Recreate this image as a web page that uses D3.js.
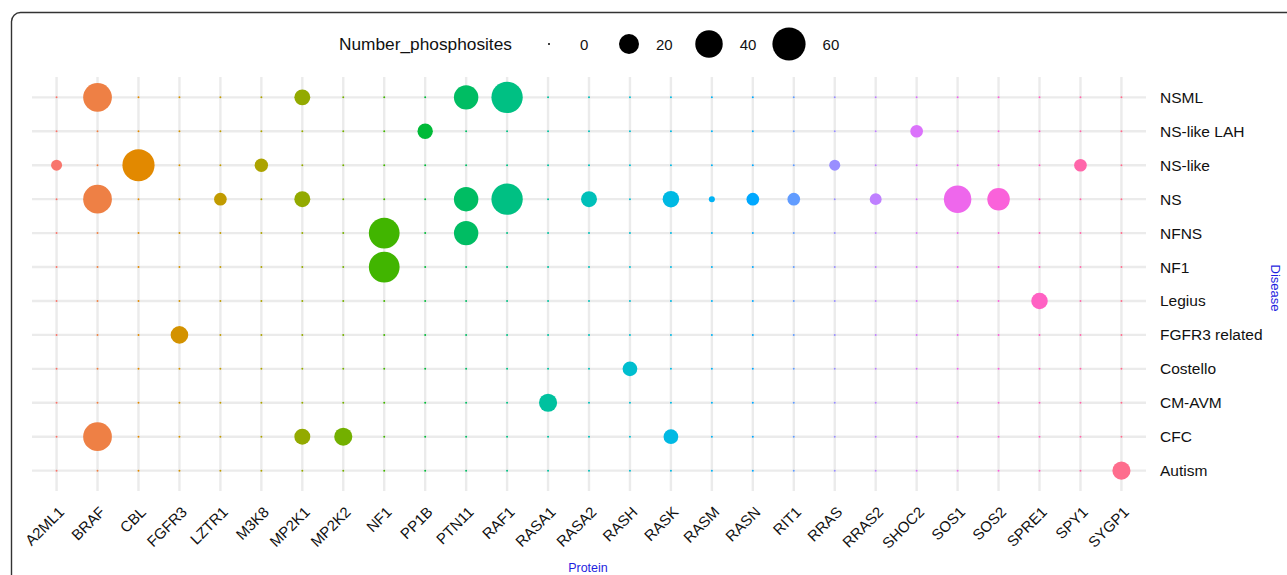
<!DOCTYPE html>
<html>
<head>
<meta charset="utf-8">
<script src="https://cdn.jsdelivr.net/npm/d3@7"></script>
<style>
  body { margin: 0; background: #fff; }
  svg text { font-family: "Liberation Sans", Arial, sans-serif; }
</style>
</head>
<body>
<div id="chart"></div>
<script>
// proteins along the x axis
const proteins = ["A2ML1", "BRAF", "CBL", "FGFR3", "LZTR1", "M3K8", "MP2K1", "MP2K2", "NF1",
    "PP1B", "PTN11", "RAF1", "RASA1", "RASA2", "RASH", "RASK", "RASM", "RASN", "RIT1", "RRAS",
    "RRAS2", "SHOC2", "SOS1", "SOS2", "SPRE1", "SPY1", "SYGP1"];

// diseases, top to bottom
const diseases = ["NSML", "NS-like LAH", "NS-like", "NS", "NFNS", "NF1", "Legius",
    "FGFR3 related", "Costello", "CM-AVM", "CFC", "Autism"];

// number of phosphosites, one row per disease, one column per protein
const phosphosites = [
    [0, 44, 0, 0, 0, 0, 12, 0, 0, 0, 31, 53, 0, 0, 0, 0, 0, 0, 0, 0, 0, 0, 0, 0, 0, 0, 0],
    [0, 0, 0, 0, 0, 0, 0, 0, 0, 11, 0, 0, 0, 0, 0, 0, 0, 0, 0, 0, 0, 7, 0, 0, 0, 0, 0],
    [5, 0, 56, 0, 0, 8, 0, 0, 0, 0, 0, 0, 0, 0, 0, 0, 0, 0, 0, 5, 0, 0, 0, 0, 0, 7, 0],
    [0, 44, 0, 0, 7, 0, 12, 0, 0, 0, 31, 53, 0, 12, 0, 13, 1, 7, 7, 0, 6, 0, 40, 26, 0, 0, 0],
    [0, 0, 0, 0, 0, 0, 0, 0, 51, 0, 31, 0, 0, 0, 0, 0, 0, 0, 0, 0, 0, 0, 0, 0, 0, 0, 0],
    [0, 0, 0, 0, 0, 0, 0, 0, 51, 0, 0, 0, 0, 0, 0, 0, 0, 0, 0, 0, 0, 0, 0, 0, 0, 0, 0],
    [0, 0, 0, 0, 0, 0, 0, 0, 0, 0, 0, 0, 0, 0, 0, 0, 0, 0, 0, 0, 0, 0, 0, 0, 13, 0, 0],
    [0, 0, 0, 15, 0, 0, 0, 0, 0, 0, 0, 0, 0, 0, 0, 0, 0, 0, 0, 0, 0, 0, 0, 0, 0, 0, 0],
    [0, 0, 0, 0, 0, 0, 0, 0, 0, 0, 0, 0, 0, 0, 10, 0, 0, 0, 0, 0, 0, 0, 0, 0, 0, 0, 0],
    [0, 0, 0, 0, 0, 0, 0, 0, 0, 0, 0, 0, 16, 0, 0, 0, 0, 0, 0, 0, 0, 0, 0, 0, 0, 0, 0],
    [0, 44, 0, 0, 0, 0, 12, 16, 0, 0, 0, 0, 0, 0, 0, 10, 0, 0, 0, 0, 0, 0, 0, 0, 0, 0, 0],
    [0, 0, 0, 0, 0, 0, 0, 0, 0, 0, 0, 0, 0, 0, 0, 0, 0, 0, 0, 0, 0, 0, 0, 0, 0, 0, 16]
];

// legend breaks
const sizeBreaks = [0, 20, 40, 60];

const width = 1287;
const height = 575;
const margin = { top: 77, right: 141, bottom: 84, left: 32 };

// ggplot-like hue palette (polarLUV, l = 65, c = 100)
function hclLuv(h, c, l) {
    const hr = h * Math.PI / 180;
    const U = c * Math.cos(hr), V = c * Math.sin(hr);
    const Xn = 95.047, Yn = 100, Zn = 108.883;
    const den = Xn + 15 * Yn + 3 * Zn;
    const un = 4 * Xn / den, vn = 9 * Yn / den;
    const Y = Yn * (l > 8 ? Math.pow((l + 16) / 116, 3) : l / 903.3);
    const u = U / (13 * l) + un, v = V / (13 * l) + vn;
    const X = 9 * Y * u / (4 * v);
    const Z = -X / 3 - 5 * Y + 3 * Y / v;
    const x = X / 100, y = Y / 100, z = Z / 100;
    const lin = [
        3.2404542 * x - 1.5371385 * y - 0.4985314 * z,
        -0.9692660 * x + 1.8760108 * y + 0.0415560 * z,
        0.0556434 * x - 0.2040259 * y + 1.0572252 * z
    ];
    const g = lin.map(t => {
        const s = t <= 0.0031308 ? 12.92 * t : 1.055 * Math.pow(t, 1 / 2.4) - 0.055;
        return Math.round(255 * Math.max(0, Math.min(1, s)));
    });
    return `rgb(${g[0]},${g[1]},${g[2]})`;
}
const colors = proteins.map((_, i) => hclLuv(15 + i * 360 / proteins.length, 100, 65));

const svg = d3.select("#chart")
    .append("svg")
    .attr("width", width)
    .attr("height", height);

// rounded frame around the figure
svg.append("rect")
    .attr("x", 11.5)
    .attr("y", 12.5)
    .attr("width", width + 20)
    .attr("height", height + 20)
    .attr("rx", 9)
    .attr("fill", "none")
    .attr("stroke", "#333")
    .attr("stroke-width", 1.4);

// scales
const xScale = d3.scalePoint()
    .domain(proteins)
    .range([margin.left, width - margin.right])
    .padding(0.6);

const yScale = d3.scalePoint()
    .domain(diseases)
    .range([margin.top, height - margin.bottom])
    .padding(0.6);

const rScale = d3.scaleSqrt()
    .domain([0, 60])
    .range([1, 16.6]);

// grid
const grid = svg.append("g").attr("class", "grid");
grid.selectAll(".vgrid")
    .data(proteins)
    .join("line")
    .attr("x1", d => xScale(d))
    .attr("x2", d => xScale(d))
    .attr("y1", margin.top)
    .attr("y2", height - margin.bottom)
    .attr("stroke", "#ebebeb")
    .attr("stroke-width", 2.4);

grid.selectAll(".hgrid")
    .data(diseases)
    .join("line")
    .attr("x1", margin.left)
    .attr("x2", width - margin.right)
    .attr("y1", d => yScale(d))
    .attr("y2", d => yScale(d))
    .attr("stroke", "#ebebeb")
    .attr("stroke-width", 2.4);

// x axis (bottom, rotated labels)
const xAxis = svg.append("g")
    .attr("transform", `translate(0,${height - margin.bottom})`)
    .call(d3.axisBottom(xScale).tickSize(0).tickPadding(0));
xAxis.select(".domain").remove();
xAxis.selectAll("text")
    .attr("font-size", 15)
    .attr("fill", "#111")
    .attr("text-anchor", "end")
    .attr("dy", null)
    .attr("y", 0)
    .attr("transform", "translate(8,22) rotate(-45)");

// y axis (right side)
const yAxis = svg.append("g")
    .attr("transform", `translate(${width - margin.right},0)`)
    .call(d3.axisRight(yScale).tickSize(0).tickPadding(14));
yAxis.select(".domain").remove();
yAxis.selectAll("text")
    .attr("font-size", 15.5)
    .attr("fill", "#111");

// axis titles
svg.append("text")
    .attr("x", xScale("RASH") - 42)
    .attr("y", 572)
    .attr("text-anchor", "middle")
    .attr("font-size", 12.5)
    .attr("fill", "#1f1fe0")
    .text("Protein");

svg.append("text")
    .attr("transform", "translate(1271,288) rotate(90)")
    .attr("text-anchor", "middle")
    .attr("font-size", 13)
    .attr("fill", "#1f1fe0")
    .text("Disease");

// points
const points = [];
diseases.forEach((dis, r) => {
    proteins.forEach((prot, c) => {
        points.push({ disease: dis, protein: prot, idx: c, value: phosphosites[r][c] });
    });
});

svg.append("g")
    .selectAll("circle")
    .data(points)
    .join("circle")
    .attr("cx", d => xScale(d.protein))
    .attr("cy", d => yScale(d.disease))
    .attr("r", d => rScale(d.value))
    .attr("fill", d => colors[d.idx]);

// size legend
const legend = svg.append("g").attr("class", "legend");
legend.append("text")
    .attr("x", 339)
    .attr("y", 50)
    .attr("font-size", 17.3)
    .attr("fill", "#111")
    .text("Number_phosphosites");

const legendX = d3.scalePoint()
    .domain(sizeBreaks)
    .range([549, 789]);

const item = legend.selectAll(".item")
    .data(sizeBreaks)
    .join("g")
    .attr("transform", d => `translate(${legendX(d)},44)`);

item.append("circle")
    .attr("r", d => rScale(d))
    .attr("fill", "#000");

item.append("text")
    .attr("x", d => d === 0 ? 31 : rScale(d) + 17)
    .attr("y", 5.5)
    .attr("font-size", 15)
    .attr("fill", "#111")
    .text(d => d);
</script>
</body>
</html>
